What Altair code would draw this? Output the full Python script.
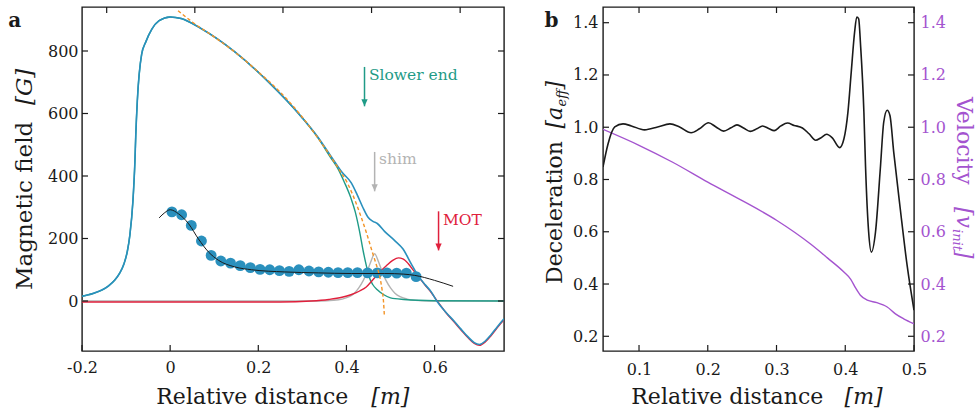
import altair as alt
import pandas as pd

# ---------------- data ----------------
# Panel a: magnetic field [G] versus relative distance [m]
TOTAL_X = [-0.2, -0.175, -0.155, -0.14, -0.1255, -0.115, -0.105, -0.097, -0.0914, -0.0846,
           -0.08, -0.078, -0.0745, -0.0646, -0.055, -0.0415, -0.025, 0.0, 0.025, 0.07, 0.147,
           0.223, 0.298, 0.335, 0.366, 0.39, 0.411, 0.425, 0.437, 0.449, 0.46, 0.47, 0.487,
           0.509, 0.528, 0.547, 0.562, 0.58, 0.592, 0.605, 0.625, 0.646, 0.66, 0.676, 0.69,
           0.702, 0.715, 0.728, 0.742, 0.7575]
TOTAL_B = [15, 24, 35, 48, 67, 88, 118, 160, 211, 317,
           445, 530, 640, 790, 830, 870, 897, 909, 904, 872, 797,
           701, 589, 525, 461, 412, 378, 338, 300, 268, 255, 248, 222,
           194, 167, 119, 82, 50, 30, 0, -35, -67, -90, -115, -133,
           -139, -128, -108, -83, -57]

SLOWER_X = [-0.2, -0.175, -0.155, -0.14, -0.1255, -0.115, -0.105, -0.097, -0.0914, -0.0846,
            -0.08, -0.078, -0.0745, -0.0646, -0.055, -0.0415, -0.025, 0.0, 0.025, 0.07, 0.147,
            0.223, 0.298, 0.335, 0.366, 0.38, 0.395, 0.41, 0.42, 0.43, 0.438, 0.445, 0.452,
            0.46, 0.47, 0.485, 0.5, 0.53, 0.6, 0.7575]
SLOWER_B = [15, 24, 35, 48, 67, 88, 118, 160, 211, 317,
            445, 530, 640, 790, 830, 870, 897, 909, 904, 872, 797,
            701, 589, 523, 455, 425, 381, 330, 285, 221, 160, 114, 75,
            52, 36, 20, 10, 5, 1, 0]

MOT_X = [-0.2, 0.25, 0.32, 0.36, 0.39, 0.41, 0.43, 0.445, 0.46, 0.475, 0.49, 0.505, 0.518,
         0.528, 0.54, 0.552, 0.565, 0.58, 0.592, 0.605, 0.625, 0.646, 0.66, 0.676, 0.69,
         0.702, 0.715, 0.728, 0.742, 0.7575]
MOT_B = [-3, -3, 0, 5, 12, 20, 32, 45, 68, 92, 112, 130, 138,
         135, 120, 98, 75, 48, 28, 2, -36, -70, -93, -118, -136,
         -142, -131, -111, -86, -60]

SHIM_X = [-0.2, 0.34, 0.37, 0.39, 0.405, 0.418, 0.428, 0.438, 0.446, 0.455, 0.464, 0.473,
          0.482, 0.49, 0.5, 0.51, 0.523, 0.538, 0.556, 0.59, 0.7575]
SHIM_B = [0, 0, 2, 6, 13, 25, 42, 65, 90, 125, 151, 125,
          90, 65, 42, 25, 13, 6, 2, 0, 0]

IDEAL_X = [0.018, 0.05, 0.1, 0.15, 0.2, 0.25, 0.3, 0.35, 0.38, 0.403, 0.42, 0.432, 0.445,
           0.458, 0.468, 0.476, 0.481, 0.484, 0.486]
IDEAL_B = [929, 893, 845, 793, 733, 668, 588, 492, 428, 375, 320, 274, 220,
           160, 115, 75, 35, 0, -46]

MEAS_X = [0.004, 0.026, 0.048, 0.071, 0.093, 0.115, 0.137, 0.159, 0.182, 0.204, 0.226,
          0.248, 0.270, 0.292, 0.315, 0.337, 0.359, 0.381, 0.403, 0.425, 0.448, 0.470,
          0.492, 0.514, 0.536, 0.558]
MEAS_B = [285, 276, 242, 192, 146, 128, 121, 113, 107, 101, 100,
          97, 95, 100, 96, 93, 92, 91, 91, 91, 90, 90,
          90, 89, 89, 78]

FIT_X = [-0.025, -0.012, 0.0, 0.019, 0.042, 0.064, 0.087, 0.11, 0.147, 0.185, 0.26,
         0.336, 0.411, 0.487, 0.53, 0.555, 0.6, 0.642]
FIT_B = [266, 283, 292, 279, 247, 199, 157, 130, 109, 100, 93,
         90, 88, 88, 86, 82, 66, 47]

ANN_TEXT = ["Slower end", "shim", "MOT"]
ANN_X = [0.441, 0.464, 0.609]
ANN_FROM = [749, 477, 287]
ANN_TIP = [623, 351, 162]
ANN_TX = [0.451, 0.474, 0.619]
ANN_TY = [708, 439, 244]

A_XTICKS = [-0.2, 0.0, 0.2, 0.4, 0.6]
A_XTICKS_TOP = [-0.144, 0.056, 0.256, 0.457, 0.658]
A_YTICKS = [0, 200, 400, 600, 800]

# Panel b: deceleration [a_eff] and velocity [v_init] versus relative distance [m]
DEC_X = [0.0476, 0.055, 0.0647, 0.0767, 0.0889, 0.108, 0.127, 0.145, 0.159, 0.1758, 0.1879,
         0.201, 0.212, 0.2231, 0.2338, 0.2425, 0.252, 0.2618, 0.2713, 0.2797, 0.2893, 0.2966,
         0.3063, 0.3159, 0.3256, 0.3377, 0.3473, 0.357, 0.3643, 0.373, 0.3812, 0.3918, 0.3981,
         0.4039, 0.4087, 0.4136, 0.4168, 0.4195, 0.4223, 0.4271, 0.4295, 0.434, 0.438, 0.444,
         0.451, 0.456, 0.461, 0.465, 0.4705, 0.480, 0.490, 0.5]
DEC_A = [0.848, 0.937, 1.001, 1.013, 1.005, 0.990, 1.001, 1.013, 1.001, 0.979, 0.994,
         1.017, 1.001, 0.985, 0.998, 1.009, 0.997, 0.984, 0.994, 1.005, 0.994, 0.987,
         1.005, 1.016, 1.007, 0.997, 0.975, 0.950, 0.959, 0.973, 0.959, 0.922, 0.956,
         1.058, 1.211, 1.364, 1.422, 1.415, 1.313, 1.058, 0.85, 0.60, 0.522, 0.599,
         0.841, 1.02, 1.065, 1.045, 0.905, 0.688, 0.471, 0.30]

VEL_X = [0.0476, 0.1, 0.149, 0.2, 0.248, 0.3, 0.35, 0.374, 0.398, 0.408, 0.415, 0.422,
         0.432, 0.446, 0.455, 0.461, 0.473, 0.485, 0.5]
VEL_V = [0.992, 0.931, 0.866, 0.79, 0.722, 0.644, 0.552, 0.50, 0.446, 0.418, 0.385, 0.357,
         0.338, 0.329, 0.32, 0.312, 0.286, 0.267, 0.248]

B_XTICKS = [0.1, 0.2, 0.3, 0.4, 0.5]
B_YTICKS = [0.2, 0.4, 0.6, 0.8, 1.0, 1.2, 1.4]

# ---------------- styling ----------------
FONT = "DejaVu Serif"
INK = "#1a1a1a"
BLUE = "#2a90bd"
TEAL = "#1f9b87"
RED = "#e0203c"
GREY = "#b3b3b3"
ORANGE = "#f39325"
PURPLE = "#a454cf"

W_A, W_B, H = 422, 311, 344
TICK = 6

xa = alt.Scale(domain=[-0.2, 0.7575], nice=False, zero=False)
ya = alt.Scale(domain=[-160, 940.8], nice=False, zero=False)
xb = alt.Scale(domain=[0.0476, 0.5], nice=False, zero=False)
yb = alt.Scale(domain=[0.1437, 1.4601], nice=False, zero=False)

AX = dict(title=None, ticks=False, domain=False, grid=False, labelFont=FONT,
          labelFontSize=16, labelColor=INK, labelFlush=False, labelOverlap=False)

ax_a_x = alt.Axis(values=A_XTICKS, labelPadding=8, orient="bottom",
                  labelExpr="datum.value < 0 ? '-' + format(-datum.value, '.1f') : "
                            "(datum.value == 0 ? '0' : format(datum.value, '.1f'))", **AX)
ax_a_y = alt.Axis(values=A_YTICKS, format="d", labelPadding=4, orient="left", **AX)
ax_b_x = alt.Axis(values=B_XTICKS, format=".1f", labelPadding=10, orient="bottom", **AX)
ax_b_y = alt.Axis(values=B_YTICKS, format=".1f", labelPadding=5, orient="left", **AX)
AXR = dict(AX)
AXR["labelColor"] = PURPLE
ax_b_r = alt.Axis(values=B_YTICKS, format=".1f", labelPadding=6, orient="right", **AXR)


def curve(xs, ys, color, width, xs_scale, ys_scale, x_axis, y_axis, dash=None):
    df = pd.DataFrame({"x": xs, "y": ys})
    props = dict(color=color, strokeWidth=width, interpolate="monotone", clip=True)
    if dash is not None:
        props["strokeDash"] = dash
    return alt.Chart(df).mark_line(**props).encode(
        x=alt.X("x:Q", scale=xs_scale, axis=x_axis),
        y=alt.Y("y:Q", scale=ys_scale, axis=y_axis),
    )


def xticks(vals, scale, axis, y0, y1):
    return alt.Chart(pd.DataFrame({"v": vals})).mark_rule(color=INK, strokeWidth=1.2).encode(
        x=alt.X("v:Q", scale=scale, axis=axis), y=alt.value(y0), y2=alt.value(y1))


def yticks(vals, scale, axis, x0, x1):
    return alt.Chart(pd.DataFrame({"v": vals})).mark_rule(color=INK, strokeWidth=1.2).encode(
        y=alt.Y("v:Q", scale=scale, axis=axis), x=alt.value(x0), x2=alt.value(x1))


def label(text, x, y, size=22, angle=0, style="normal", weight="normal", color=INK):
    mk = dict(text=text, font=FONT, fontSize=size, fontStyle=style, fontWeight=weight,
              color=color, align="left", baseline="alphabetic")
    if angle:
        mk["angle"] = angle
    return alt.Chart(alt.Data(values=[{"k": 0}])).mark_text(**mk).encode(
        x=alt.value(x), y=alt.value(y))


# ---------------- panel a ----------------
ann = pd.DataFrame({"t": ANN_TEXT, "x": ANN_X, "y0": ANN_FROM, "y1": ANN_TIP,
                    "tx": ANN_TX, "ty": ANN_TY})
ann_color = alt.Color("t:N", scale=alt.Scale(domain=ANN_TEXT, range=[TEAL, GREY, RED]),
                      legend=None)
arrow_line = alt.Chart(ann).mark_rule(strokeWidth=1.5).encode(
    x=alt.X("x:Q", scale=xa, axis=ax_a_x), y=alt.Y("y0:Q", scale=ya, axis=ax_a_y),
    y2=alt.Y2("y1:Q"), color=ann_color)
arrow_head = alt.Chart(ann).mark_point(shape="M-0.45,-1L0.45,-1L0,0Z", filled=True,
                                       size=196, opacity=1).encode(
    x=alt.X("x:Q", scale=xa, axis=ax_a_x), y=alt.Y("y1:Q", scale=ya, axis=ax_a_y),
    color=ann_color)
arrow_text = alt.Chart(ann).mark_text(font=FONT, fontSize=15.5, align="left",
                                      baseline="alphabetic").encode(
    x=alt.X("tx:Q", scale=xa, axis=ax_a_x), y=alt.Y("ty:Q", scale=ya, axis=ax_a_y),
    text="t:N", color=ann_color)

meas = alt.Chart(pd.DataFrame({"x": MEAS_X, "y": MEAS_B})).mark_circle(
    size=118, color=BLUE, opacity=1).encode(
    x=alt.X("x:Q", scale=xa, axis=ax_a_x), y=alt.Y("y:Q", scale=ya, axis=ax_a_y))

panel_a = alt.layer(
    curve(SHIM_X, SHIM_B, GREY, 1.4, xa, ya, ax_a_x, ax_a_y),
    curve(SLOWER_X, SLOWER_B, TEAL, 1.4, xa, ya, ax_a_x, ax_a_y),
    curve(MOT_X, MOT_B, RED, 1.4, xa, ya, ax_a_x, ax_a_y),
    curve(TOTAL_X, TOTAL_B, BLUE, 1.6, xa, ya, ax_a_x, ax_a_y),
    meas,
    curve(IDEAL_X, IDEAL_B, ORANGE, 1.4, xa, ya, ax_a_x, ax_a_y, dash=[3.5, 2.5]),
    curve(FIT_X, FIT_B, INK, 1.0, xa, ya, ax_a_x, ax_a_y),
    arrow_line, arrow_head, arrow_text,
    xticks(A_XTICKS, xa, ax_a_x, H, H - TICK),
    xticks(A_XTICKS_TOP, xa, ax_a_x, 0, TICK),
    yticks(A_YTICKS, ya, ax_a_y, 0, TICK),
    yticks(A_YTICKS, ya, ax_a_y, W_A, W_A - TICK),
    label("Relative distance", 74.3, 396.7),
    label("[m]", 289.3, 396.7, style="italic"),
    label("Magnetic field", -49.7, 283, size=23, angle=270),
    label("[G]", -49.7, 98, size=23, angle=270, style="italic"),
    label("a", -73.7, 20, size=20, weight="bold"),
).properties(width=W_A, height=H)

# ---------------- panel b ----------------
panel_b = alt.layer(
    curve(VEL_X, VEL_V, PURPLE, 1.4, xb, yb, ax_b_x, ax_b_r),
    curve(DEC_X, DEC_A, INK, 1.6, xb, yb, ax_b_x, ax_b_y),
    xticks(B_XTICKS, xb, ax_b_x, H, H - TICK),
    xticks(B_XTICKS, xb, ax_b_x, 0, TICK),
    yticks(B_YTICKS, yb, None, 0, TICK),
    yticks(B_YTICKS, yb, None, W_B, W_B - TICK),
    label("Relative distance", 28.3, 396.7),
    label("[m]", 241.6, 396.7, style="italic"),
    label("Deceleration", -40.7, 277, angle=270),
    label("[a", -40.7, 121.5, angle=270, style="italic"),
    label("eff", -36.7, 99.5, size=13, angle=270, style="italic"),
    label("]", -40.7, 82.5, angle=270, style="italic"),
    label("Velocity", 354.3, 90, angle=90, color=PURPLE),
    label("[v", 354.3, 200, angle=90, style="italic", color=PURPLE),
    label("init", 350.3, 222, size=13, angle=90, style="italic", color=PURPLE),
    label("]", 354.3, 243, angle=90, style="italic", color=PURPLE),
    label("b", -58.4, 20, size=20, weight="bold"),
).resolve_scale(y="independent").properties(width=W_B, height=H)

chart = alt.hconcat(panel_a, panel_b, spacing=99, bounds="flush").configure_view(
    stroke=INK, strokeWidth=1.4
).properties(padding={"left": 7, "top": 5, "right": 0, "bottom": 0}, background="white")

chart.save("out.html", embed_options={"renderer": "svg", "actions": False})
